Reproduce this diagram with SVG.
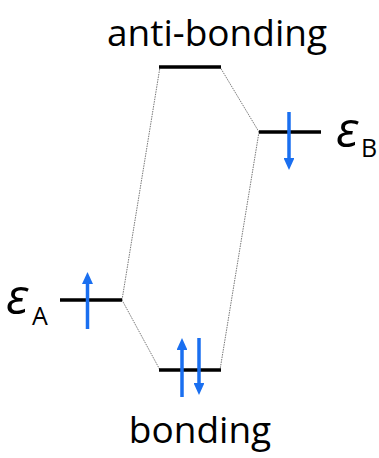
<svg xmlns="http://www.w3.org/2000/svg" width="379" height="458" viewBox="0 0 379 458">
<style>
.lvl{stroke:#000;stroke-width:3.5;fill:none}
.conn{stroke:#777;stroke-width:1;stroke-dasharray:1.5 1;fill:none}
.spin{stroke:#1a6ff0;stroke-width:3.5;fill:none}
.lbl{font-family:"Open Sans","DejaVu Sans",sans-serif;font-size:37px;fill:#000}
.eps{font-family:"Open Sans","DejaVu Sans",sans-serif;font-style:italic;font-size:50px;fill:#000}
.sub{font-family:"Open Sans","DejaVu Sans",sans-serif;font-size:25px;fill:#000}
</style>
<defs>
<marker id="ah" viewBox="0 0 12 11" refX="4" refY="5.5" markerWidth="3.43" markerHeight="3.14" orient="auto" markerUnits="strokeWidth">
<path d="M0,0 L12,5.5 L0,11 z" fill="#1a6ff0"/>
</marker>
</defs>
<g id="connectors">
<line class="conn" x1="122" y1="300" x2="160" y2="67"/>
<line class="conn" x1="122" y1="300" x2="160" y2="370"/>
<line class="conn" x1="259" y1="132" x2="220" y2="67"/>
<line class="conn" x1="259" y1="132" x2="220" y2="370"/>
</g>
<g id="eA">
<line class="lvl" x1="60" y1="300" x2="122" y2="300"/>
<line class="spin" x1="87.5" y1="329" x2="87.5" y2="280" marker-end="url(#ah)"/>
<text class="eps" x="6" y="314">ε</text>
<text class="sub" x="32" y="325">A</text>
</g>
<g id="eB">
<line class="lvl" x1="259" y1="132" x2="321" y2="132"/>
<line class="spin" x1="289" y1="112" x2="289" y2="162" marker-end="url(#ah)"/>
<text class="eps" x="336" y="147">ε</text>
<text class="sub" x="361" y="157">B</text>
</g>
<g id="antibonding">
<line class="lvl" x1="159" y1="67" x2="221" y2="67"/>
<text class="lbl" x="217" y="46" text-anchor="middle">anti-bonding</text>
</g>
<g id="bonding">
<line class="lvl" x1="159" y1="370" x2="221" y2="370"/>
<line class="spin" x1="182" y1="397" x2="182" y2="346" marker-end="url(#ah)"/>
<line class="spin" x1="199" y1="338" x2="199" y2="387" marker-end="url(#ah)"/>
<text class="lbl" x="200" y="443" text-anchor="middle">bonding</text>
</g>
</svg>
